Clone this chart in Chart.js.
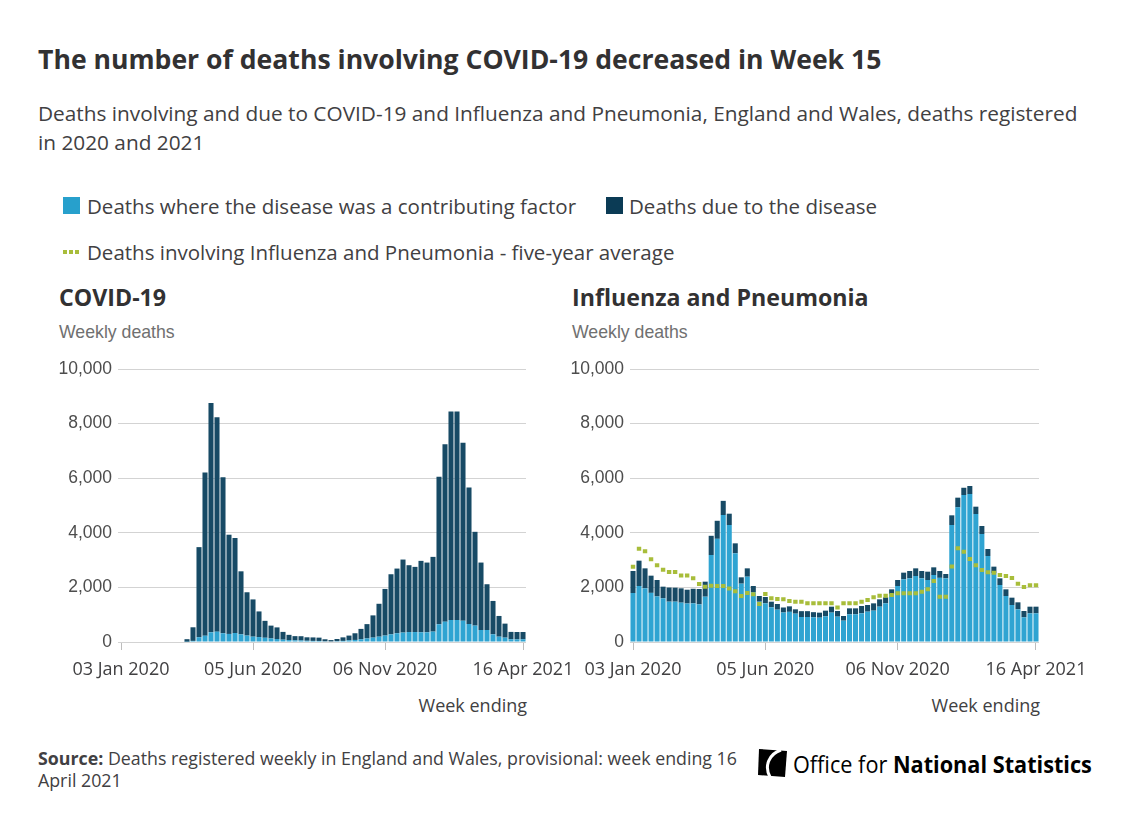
<!DOCTYPE html>
<html><head><meta charset="utf-8">
<script src="https://cdn.jsdelivr.net/npm/chart.js@4.4.1/dist/chart.umd.min.js"></script>
<style>
body{margin:0;background:#fff;width:1133px;height:827px;overflow:hidden;position:relative;font-family:'Open Sans',sans-serif;color:#414042}
.t{position:absolute;white-space:nowrap;line-height:1}
.sq{position:absolute;width:17px;height:17px}
.dot{position:absolute;width:4px;height:4px;background:#a8bd3a}
canvas{position:absolute}
</style></head><body>
<div class="t" style="left:38px;top:46px;font-size:26.6px;font-weight:700;color:#323132">The number of deaths involving COVID-19 decreased in Week 15</div>
<div class="t" style="left:38px;top:99px;font-size:20.8px;line-height:29px">Deaths involving and due to COVID-19 and Influenza and Pneumonia, England and Wales, deaths registered<br>in 2020 and 2021</div>

<div class="sq" style="left:63px;top:197px;background:#27a0cc"></div>
<div class="t" style="left:87px;top:196px;font-size:20.5px">Deaths where the disease was a contributing factor</div>
<div class="sq" style="left:606px;top:197px;background:#0b3b55"></div>
<div class="t" style="left:629px;top:196px;font-size:20.5px">Deaths due to the disease</div>
<div class="dot" style="left:63px;top:250px"></div><div class="dot" style="left:69px;top:250px"></div><div class="dot" style="left:75px;top:250px"></div>
<div class="t" style="left:87px;top:242px;font-size:20.5px">Deaths involving Influenza and Pneumonia - five-year average</div>

<div class="t" style="left:59px;top:286px;font-size:23.2px;font-weight:700;color:#323132">COVID-19</div>
<div class="t" style="left:572px;top:286px;font-size:23.2px;font-weight:700;color:#323132">Influenza and Pneumonia</div>
<div class="t" style="left:59px;top:324px;font-size:17.7px;font-family:'Liberation Sans',Arial,sans-serif;color:#707070">Weekly deaths</div>
<div class="t" style="left:572px;top:324px;font-size:17.7px;font-family:'Liberation Sans',Arial,sans-serif;color:#707070">Weekly deaths</div>

<canvas id="c1" width="528" height="336" style="left:58px;top:349px"></canvas>
<canvas id="c2" width="529" height="336" style="left:570px;top:349px"></canvas>

<div class="t" style="right:606px;top:696px;font-size:18px">Week ending</div>
<div class="t" style="right:93px;top:696px;font-size:18px">Week ending</div>

<div class="t" style="left:38px;top:747px;font-size:17.8px;line-height:22px"><b>Source:</b> Deaths registered weekly in England and Wales, provisional: week ending 16<br>April 2021</div>

<svg style="position:absolute;left:757px;top:748px" width="31" height="30" viewBox="0 0 31 30">
<path d="M2 1 L30 3 L28 29 L1 27 Z" fill="#000"/>
<path d="M24 2 C12 6 7 18 13 29" stroke="#fff" stroke-width="3" fill="none"/>
</svg>
<div id="ons" class="t" style="left:793px;top:752px;font-size:24px;color:#000;transform-origin:0 0"><span>Office for </span><b>National Statistics</b></div>

<script>
const tickIdx = [0, 22, 44, 67];
const tickLabels = ['03 Jan 2020', '05 Jun 2020', '06 Nov 2020', '16 Apr 2021'];
const startWeek = new Date(Date.UTC(2020, 0, 3));
const weeks = [];
for (let i = 0; i < 68; i++) { const d = new Date(startWeek.getTime() + i * 7 * 864e5); weeks.push(d.toISOString().slice(0, 10)); }

const covidContrib = [0,0,0,0,0,0,0,0,0,0,0,10,40,175,230,355,380,320,295,330,280,235,195,180,155,130,110,85,70,60,55,45,40,38,25,20,30,40,60,75,100,130,160,195,235,280,320,345,365,365,355,355,380,650,745,805,805,780,660,600,440,440,280,195,160,100,95,100];
const covidDue = [0,0,0,0,0,0,0,0,0,0,0,93,499,3300,5983,8403,7857,5715,3635,3480,2309,1587,1365,940,620,470,425,285,192,155,157,127,128,122,75,50,80,130,175,245,380,525,815,1205,1709,2202,2370,2675,2448,2387,2617,2555,2738,5404,6495,7635,7635,6520,5002,3436,2470,1676,1224,759,513,270,272,267];

const fluContrib = [1795,2051,1966,1800,1670,1600,1477,1477,1441,1410,1416,1380,1660,3187,3780,4652,4286,3248,2137,2393,1825,1477,1416,1270,1185,1080,1105,1038,916,916,904,891,940,1075,928,781,1013,1013,1050,1111,1148,1294,1416,1758,2051,2295,2332,2418,2332,2271,2454,2350,2332,4286,4933,5385,5421,4689,3956,3150,2515,2088,1685,1355,1197,904,1050,1050];
const fluDue = [806,928,732,630,601,427,518,513,525,505,534,561,550,703,660,518,414,366,232,305,226,208,232,207,207,184,201,159,214,214,189,184,208,219,208,171,220,220,269,244,268,269,220,171,220,245,269,280,269,305,281,251,159,354,354,265,293,268,293,257,245,244,244,269,256,232,244,244];
const fluAvg = [2759,3413,3320,3035,2808,2650,2560,2560,2440,2440,2332,2125,2027,2057,2051,2051,1960,1860,1685,1795,1752,1390,1758,1600,1575,1563,1502,1477,1477,1416,1416,1416,1416,1416,1260,1416,1416,1416,1477,1538,1636,1697,1697,1722,1783,1783,1783,1783,1844,1929,2230,1660,1660,2770,3431,3309,3040,2808,2637,2552,2540,2454,2418,2340,2137,2015,2075,2075];

const LIGHT = '#2fa4d2', DARK = '#174a65', GREEN = '#a8bd3a';

function makeChart(id, light, dark, avg) {
  const ds = [
    {type:'bar', data:light, backgroundColor:LIGHT, stack:'s', order:1, barPercentage:0.84, categoryPercentage:1},
    {type:'bar', data:dark, backgroundColor:DARK, stack:'s', order:1, barPercentage:0.84, categoryPercentage:1}
  ];
  if (avg) ds.push({type:'line', data:avg, showLine:false, pointStyle:'line', pointRadius:2.2, pointHoverRadius:2.2,
    pointBorderWidth:4, pointBorderColor:GREEN, pointBackgroundColor:GREEN, order:0, stack:'avg'});
  new Chart(document.getElementById(id), {
    type:'bar',
    data:{labels:weeks, datasets:ds},
    options:{
      responsive:false, animation:false, events:[],
      layout:{padding:{top:20, right:60, bottom:0, left:0}},
      plugins:{legend:{display:false}, tooltip:{enabled:false}},
      scales:{
        x:{stacked:true, offset:true,
          grid:{offset:false, drawOnChartArea:false, drawTicks:true, tickLength:8,
            color:c => tickIdx.includes(c.index) ? '#bdbdbd' : 'rgba(0,0,0,0)'},
          border:{display:false},
          ticks:{autoSkip:false, maxRotation:0, minRotation:0, padding:9,
            font:{family:"'Open Sans'", size:18}, color:'#414042',
            callback:(v, i) => { const k = tickIdx.indexOf(i); return k >= 0 ? tickLabels[k] : ''; }},
          afterFit:s => { s.height = 43; }},
        y:{stacked:true, min:0, max:10000,
          ticks:{stepSize:2000, padding:6, font:{family:"'Liberation Sans', Arial, sans-serif", size:17.5}, color:'#4d4d4d',
            callback:v => v.toLocaleString('en-GB')},
          grid:{color:'#d3d3d3', drawTicks:false},
          border:{display:false},
          afterFit:s => { s.width = 60; }}
      }
    }
  });
}
makeChart('c1', covidContrib, covidDue, null);
makeChart('c2', fluContrib, fluDue, fluAvg);

const ons = document.getElementById('ons');
ons.style.transform = 'scaleX(' + (299 / ons.offsetWidth) + ')';
</script>
</body></html>
